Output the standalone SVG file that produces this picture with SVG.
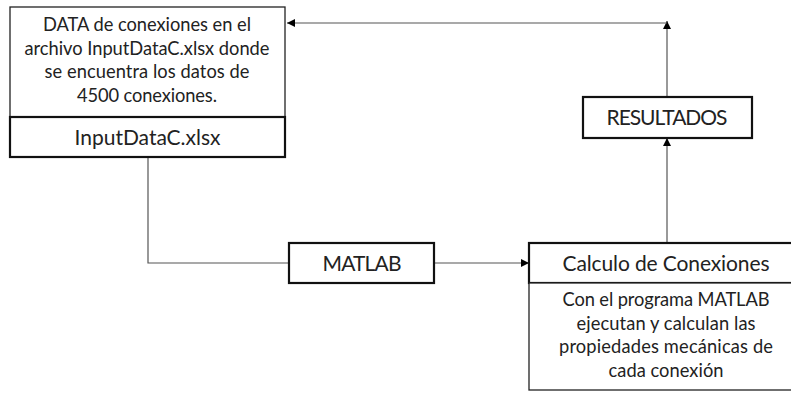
<svg xmlns="http://www.w3.org/2000/svg" width="791" height="394" viewBox="0 0 791 394">
<style>
text{font-family:Lato,"Open Sans","Liberation Sans",sans-serif;fill:#222;text-anchor:middle}
.t{font-size:18.3px}
.h{font-size:21px}
.thin{fill:#fff;stroke:#222;stroke-width:1.3}
.thick{fill:#fff;stroke:#111;stroke-width:2.2}
.c{fill:none;stroke:#555;stroke-width:1.2}
</style>
<defs>
<marker id="a" viewBox="0 0 10 10" refX="10" refY="5" markerWidth="8" markerHeight="8" markerUnits="userSpaceOnUse" orient="auto"><path d="M0,0L10,5L0,10z" fill="#000"/></marker>
</defs>
<g id="connectors">
<path class="c" d="M148,158V263H289"/>
<path class="c" d="M434,263H529" marker-end="url(#a)"/>
<path class="c" d="M667,243V138" marker-end="url(#a)"/>
<path class="c" d="M667,97V21" marker-end="url(#a)"/>
<path class="c" d="M667,23H287" marker-end="url(#a)"/>
</g>
<g id="data">
<rect class="thin" x="10" y="7" width="275" height="110"/>
<text class="t" x="147" y="31" textLength="208">DATA de conexiones en el</text>
<text class="t" x="147" y="54.5" textLength="245">archivo InputDataC.xlsx donde</text>
<text class="t" x="147" y="78" textLength="205">se encuentra los datos de</text>
<text class="t" x="147" y="101.5" textLength="140">4500 conexiones.</text>
</g>
<g id="input">
<rect class="thick" x="10" y="117" width="275" height="40"/>
<text class="h" x="147.5" y="144.5" textLength="146">InputDataC.xlsx</text>
</g>
<g id="matlab">
<rect class="thick" x="289" y="243" width="145" height="40"/>
<text class="h" x="362" y="270.5" textLength="79">MATLAB</text>
</g>
<g id="calculo">
<rect class="thick" x="529" y="243" width="276" height="40"/>
<text class="h" x="666" y="270.5" textLength="207">Calculo de Conexiones</text>
</g>
<g id="calculo-desc">
<rect class="thin" x="529" y="283" width="276" height="107"/>
<text class="t" x="666" y="306" textLength="207">Con el programa MATLAB</text>
<text class="t" x="666" y="329.5" textLength="179">ejecutan y calculan las</text>
<text class="t" x="666" y="353" textLength="214">propiedades mecánicas de</text>
<text class="t" x="666" y="376.5" textLength="115">cada conexión</text>
</g>
<g id="resultados">
<rect class="thick" x="583" y="97" width="169" height="41"/>
<text class="h" x="667" y="125" textLength="121">RESULTADOS</text>
</g>
</svg>
